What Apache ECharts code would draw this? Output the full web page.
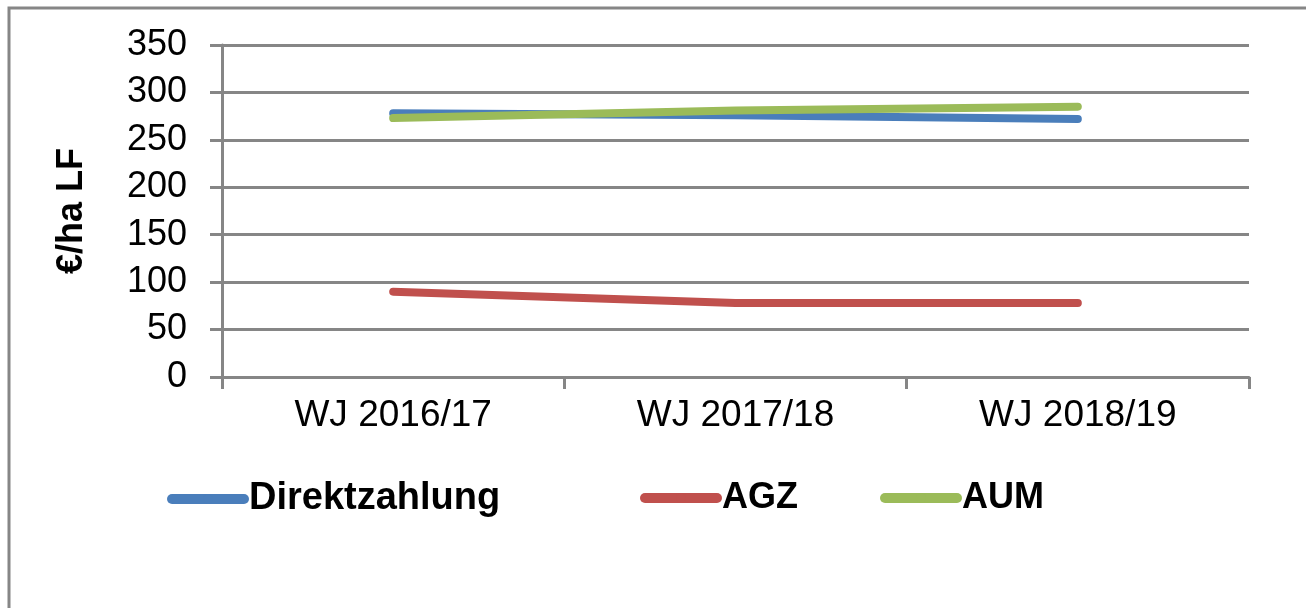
<!DOCTYPE html>
<html lang="de" style="height: 100%">
<head>
    <meta charset="utf-8">
    <script src="https://cdn.jsdelivr.net/npm/echarts@6/dist/echarts.min.js"></script>
</head>
<body style="height: 100%; margin: 0; background: #fff">
<div id="main" style="width: 1306px; height: 608px"></div>
<script type="text/javascript">
    // Wirtschaftsjahre
    var years = ['WJ 2016/17', 'WJ 2017/18', 'WJ 2018/19'];
    // €/ha LF
    var direktzahlung = [278, 276, 272];
    var agz = [90, 78, 78];
    var aum = [273, 281, 285];

    var gray = '#868686';
    var font = 'Liberation Sans, Arial, sans-serif';

    var chart = echarts.init(document.getElementById('main'));

    function makeLine(name, data, color) {
        return {
            name: name,
            type: 'line',
            data: data,
            symbol: 'none',
            color: color,
            lineStyle: {width: 8, color: color, cap: 'round'}
        };
    }

    function makeLegend(name, left, size) {
        return {
            data: [name],
            left: left,
            top: 480,
            itemWidth: 72,
            itemHeight: 12,
            itemGap: 0,
            padding: 0,
            textStyle: {fontFamily: font, fontSize: size, fontWeight: 'bold', color: '#000', padding: [0, 0, 0, 0]},
            lineStyle: {width: 10}
        };
    }

    chart.setOption({
        animation: false,
        backgroundColor: '#fff',
        graphic: [{
            type: 'rect',
            shape: {x: 9, y: 8, width: 1400, height: 700},
            style: {fill: 'none', stroke: gray, lineWidth: 3}
        }],
        grid: {left: 222, right: 57, top: 45, bottom: 231},
        legend: [
            makeLegend('Direktzahlung', 167, 38),
            makeLegend('AGZ', 640, 36),
            makeLegend('AUM', 880, 36)
        ],
        xAxis: {
            type: 'category',
            data: years,
            boundaryGap: true,
            axisLine: {lineStyle: {color: gray, width: 3}},
            axisTick: {show: true, length: 12, lineStyle: {color: gray, width: 3}},
            axisLabel: {fontFamily: font, fontSize: 37, color: '#000', margin: 20}
        },
        yAxis: {
            type: 'value',
            min: 0,
            max: 350,
            interval: 50,
            name: '€/ha LF',
            nameLocation: 'middle',
            nameRotate: 90,
            nameGap: 132,
            nameTextStyle: {fontFamily: font, fontSize: 36, fontWeight: 'bold', color: '#000'},
            axisLine: {show: true, lineStyle: {color: gray, width: 3}},
            axisTick: {show: true, length: 12, lineStyle: {color: gray, width: 3}},
            splitLine: {lineStyle: {color: gray, width: 3}},
            axisLabel: {fontFamily: font, fontSize: 36, color: '#000', margin: 35}
        },
        series: [
            makeLine('Direktzahlung', direktzahlung, '#4a7ebb'),
            makeLine('AGZ', agz, '#c0504d'),
            makeLine('AUM', aum, '#9bbb59')
        ]
    });
</script>
</body>
</html>
